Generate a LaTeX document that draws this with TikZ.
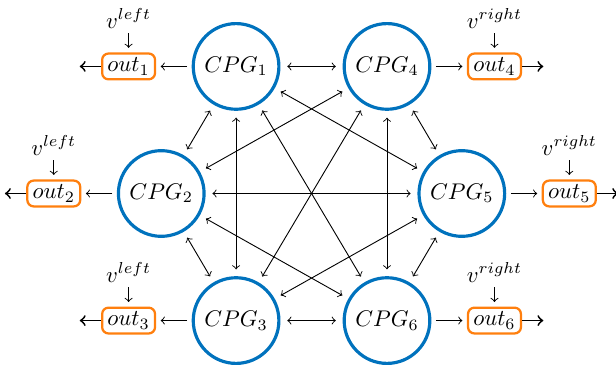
\documentclass[tikz,border=0pt]{standalone}
\usepackage{amsmath}
\usepackage{amssymb}
\usetikzlibrary{arrows,positioning}

\definecolor{cpgblue}{RGB}{0,114,189}
\definecolor{outorange}{RGB}{255,127,14}

\tikzset{
  cpg/.style={circle, draw=cpgblue, line width=1.4pt, minimum size=1.25cm},
  outbox/.style={rectangle, rounded corners=2.8pt, draw=outorange, line width=1pt,
    minimum width=0.82cm, minimum height=0.4cm, inner sep=1.5pt},
  link/.style={<->, shorten >=3pt, shorten <=3pt},
  feed/.style={->, shorten >=2pt, shorten <=2pt},
  sendout/.style={->, thick}
}

\begin{document}
\begin{tikzpicture}[node distance=0.55cm]
    \useasboundingbox (-4.83,-2.81) rectangle (4.72,3.0);
    % oscillators
    \node[cpg] (cpg1) at (-1.17,1.97) {$CPG_1$};
    \node[cpg] (cpg2) at (-2.33,0) {$CPG_2$};
    \node[cpg] (cpg3) at (-1.17,-1.97) {$CPG_3$};
    \node[cpg] (cpg4) at (1.17,1.97) {$CPG_4$};
    \node[cpg] (cpg5) at (2.33,0) {$CPG_5$};
    \node[cpg] (cpg6) at (1.17,-1.97) {$CPG_6$};
    % outputs
    \node[outbox] (out1) [left=of cpg1] {$out_1$};
    \node[outbox] (out2) [left=of cpg2] {$out_2$};
    \node[outbox] (out3) [left=of cpg3] {$out_3$};
    \node[outbox] (out4) [right=of cpg4] {$out_4$};
    \node[outbox] (out5) [right=of cpg5] {$out_5$};
    \node[outbox] (out6) [right=of cpg6] {$out_6$};
    \node[inner sep=2pt] (v1) [above=0.3cm of out1] {$v^{left}$};
    \node[inner sep=2pt] (v2) [above=0.3cm of out2] {$v^{left}$};
    \node[inner sep=2pt] (v3) [above=0.3cm of out3] {$v^{left}$};
    \node[inner sep=2pt] (v4) [above=0.3cm of out4] {$v^{right}$};
    \node[inner sep=2pt] (v5) [above=0.3cm of out5] {$v^{right}$};
    \node[inner sep=2pt] (v6) [above=0.3cm of out6] {$v^{right}$};
    \coordinate[left=0.33cm of out1] (e1);
    \coordinate[left=0.33cm of out2] (e2);
    \coordinate[left=0.33cm of out3] (e3);
    \coordinate[right=0.33cm of out4] (e4);
    \coordinate[right=0.33cm of out5] (e5);
    \coordinate[right=0.33cm of out6] (e6);
    \path[link]
    (cpg1) edge (cpg2)
    (cpg1) edge (cpg3)
    (cpg1) edge (cpg4)
    (cpg1) edge (cpg5)
    (cpg1) edge (cpg6)
    (cpg2) edge (cpg3)
    (cpg2) edge (cpg4)
    (cpg2) edge (cpg5)
    (cpg2) edge (cpg6)
    (cpg3) edge (cpg4)
    (cpg3) edge (cpg5)
    (cpg3) edge (cpg6)
    (cpg4) edge (cpg5)
    (cpg4) edge (cpg6)
    (cpg5) edge (cpg6)
    ;
    \foreach \i in {1,...,6} {
      \draw[feed] (cpg\i) -- (out\i);
      \draw[feed, shorten <=0pt] (v\i) -- (out\i);
      \draw[sendout] (out\i) -- (e\i);
    }

  \end{tikzpicture}
\end{document}
